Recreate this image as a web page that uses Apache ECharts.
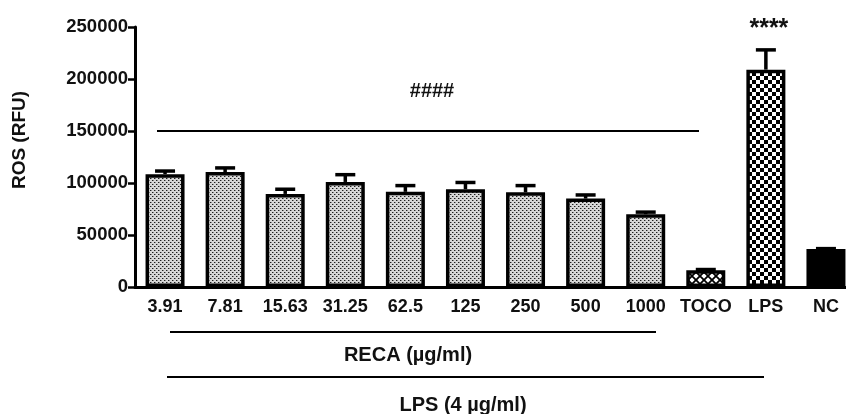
<!DOCTYPE html>
<html>
<head>
<meta charset="utf-8">
<script src="https://cdn.jsdelivr.net/npm/echarts@6/dist/echarts.min.js"></script>
<style>
  html, body { margin: 0; padding: 0; background: #fff; }
  #chart { width: 846px; height: 414px; }
</style>
</head>
<body>
<div id="chart"></div>
<script>
// Groups along the x axis: RECA concentrations (µg/ml), then controls
const categories = ['3.91', '7.81', '15.63', '31.25', '62.5', '125', '250', '500', '1000', 'TOCO', 'LPS', 'NC'];
// Mean ROS signal (RFU) per group
const rosMean = [108500, 110500, 89500, 101000, 91500, 94000, 91000, 85000, 70000, 16000, 209000, 36500];
// Upper error (SEM) per group
const rosErr = [3000, 4000, 4500, 7000, 6000, 6500, 6500, 3500, 2000, 800, 19000, 400];
// Fill style key per group
const fillKind = ['dots', 'dots', 'dots', 'dots', 'dots', 'dots', 'dots', 'dots', 'dots', 'hatch', 'checker', 'solid'];
const yTicks = { min: 0, max: 250000, step: 50000 };

const FONT = '"Liberation Sans", Arial, Helvetica, sans-serif';

function makePattern(kind) {
  const c = document.createElement('canvas');
  const ctx = c.getContext('2d');
  if (kind === 'dots') {
    c.width = 4; c.height = 4;
    ctx.fillStyle = '#d6d6d6'; ctx.fillRect(0, 0, 4, 4);
    ctx.fillStyle = '#1e1e1e';
    ctx.fillRect(0, 0, 1, 1);
    ctx.fillRect(2, 2, 1, 1);
    ctx.fillStyle = '#8a8a8a';
    ctx.fillRect(1, 0, 1, 1);
    ctx.fillRect(3, 2, 1, 1);
  } else if (kind === 'checker') {
    c.width = 8; c.height = 8;
    ctx.fillStyle = '#fff'; ctx.fillRect(0, 0, 8, 8);
    ctx.fillStyle = '#000';
    ctx.fillRect(0, 0, 4, 4);
    ctx.fillRect(4, 4, 4, 4);
  } else if (kind === 'hatch') {
    c.width = 8; c.height = 8;
    ctx.fillStyle = '#fff'; ctx.fillRect(0, 0, 8, 8);
    ctx.strokeStyle = '#000'; ctx.lineWidth = 1.8;
    ctx.beginPath();
    ctx.moveTo(-1, -1); ctx.lineTo(9, 9);
    ctx.moveTo(-1, 9); ctx.lineTo(9, -1);
    ctx.stroke();
  }
  return c;
}

const fills = {
  dots: { image: makePattern('dots'), repeat: 'repeat' },
  checker: { image: makePattern('checker'), repeat: 'repeat' },
  hatch: { image: makePattern('hatch'), repeat: 'repeat' },
  solid: '#000'
};

const barData = rosMean.map((v, i) => ({
  value: v,
  itemStyle: { color: fills[fillKind[i]] }
}));
const errData = rosMean.map((v, i) => [i, v, rosErr[i]]);

const chart = echarts.init(document.getElementById('chart'), null, { renderer: 'canvas' });

chart.setOption({
  animation: false,
  backgroundColor: '#fff',
  // the plot runs a little past the right edge of the canvas, so the last bar is cut
  grid: { left: 135, top: 27, width: 721, height: 260, containLabel: false, outerBoundsMode: 'none' },
  xAxis: {
    type: 'category',
    data: categories,
    axisLine: { lineStyle: { color: '#000', width: 3 } },
    axisTick: { alignWithLabel: true, length: 6, lineStyle: { color: '#000', width: 2.5 } },
    axisLabel: { color: '#111', fontFamily: FONT, fontWeight: 'bold', fontSize: 18, margin: 11, interval: 0 }
  },
  yAxis: {
    type: 'value',
    min: yTicks.min, max: yTicks.max, interval: yTicks.step,
    splitLine: { show: false },
    axisLine: { show: true, lineStyle: { color: '#000', width: 3 } },
    axisTick: { show: true, length: 7, lineStyle: { color: '#000', width: 2.5 } },
    axisLabel: {
      color: '#111', fontFamily: FONT, fontWeight: 'bold', fontSize: 18.5, margin: 7,
      formatter: function (v) { return String(v); }
    }
  },
  series: [
    {
      type: 'bar',
      data: barData,
      barWidth: 39,
      itemStyle: { borderColor: '#000', borderWidth: 3.5 },
      z: 2
    },
    {
      type: 'custom',
      data: errData,
      z: 3,
      renderItem: function (params, api) {
        const base = api.coord([api.value(0), api.value(1)]);
        const top = api.coord([api.value(0), api.value(1) + api.value(2)]);
        const style = { stroke: '#000', lineWidth: 3.5 };
        return {
          type: 'group',
          children: [
            { type: 'line', shape: { x1: base[0], y1: base[1], x2: base[0], y2: top[1] }, style: style },
            { type: 'line', shape: { x1: base[0] - 10, y1: top[1], x2: base[0] + 10, y2: top[1] }, style: style }
          ]
        };
      }
    }
  ]
});

// Annotations: comparison bar with ####, significance stars, group brackets
const yLine = chart.convertToPixel({ yAxisIndex: 0 }, 150000);
const lpsIdx = categories.indexOf('LPS');
const lpsTop = chart.convertToPixel({ seriesIndex: 0 }, [lpsIdx, rosMean[lpsIdx] + rosErr[lpsIdx]]);

chart.setOption({
  graphic: [
    { type: 'line', shape: { x1: 157, y1: yLine, x2: 699, y2: yLine }, style: { stroke: '#000', lineWidth: 2.2 } },
    { type: 'text', x: 432, y: 91, style: { text: '####', font: 'bold 20px ' + FONT, fill: '#111', align: 'center', verticalAlign: 'middle' } },
    { type: 'text', x: lpsTop[0] + 3, y: lpsTop[1] - 21, style: { text: '****', font: 'bold 25px ' + FONT, fill: '#111', align: 'center', verticalAlign: 'middle' } },
    { type: 'line', shape: { x1: 170, y1: 332, x2: 656, y2: 332 }, style: { stroke: '#000', lineWidth: 2.2 } },
    { type: 'text', x: 408, y: 355, style: { text: 'RECA (µg/ml)', font: 'bold 20px ' + FONT, fill: '#111', align: 'center', verticalAlign: 'middle' } },
    { type: 'line', shape: { x1: 167, y1: 377, x2: 764, y2: 377 }, style: { stroke: '#000', lineWidth: 2.2 } },
    { type: 'text', x: 463, y: 405, style: { text: 'LPS (4 µg/ml)', font: 'bold 20px ' + FONT, fill: '#111', align: 'center', verticalAlign: 'middle' } },
    { type: 'text', x: 20, y: 140, rotation: Math.PI / 2, style: { text: 'ROS (RFU)', font: 'bold 19px ' + FONT, fill: '#111', align: 'center', verticalAlign: 'middle' } }
  ]
});
</script>
</body>
</html>
